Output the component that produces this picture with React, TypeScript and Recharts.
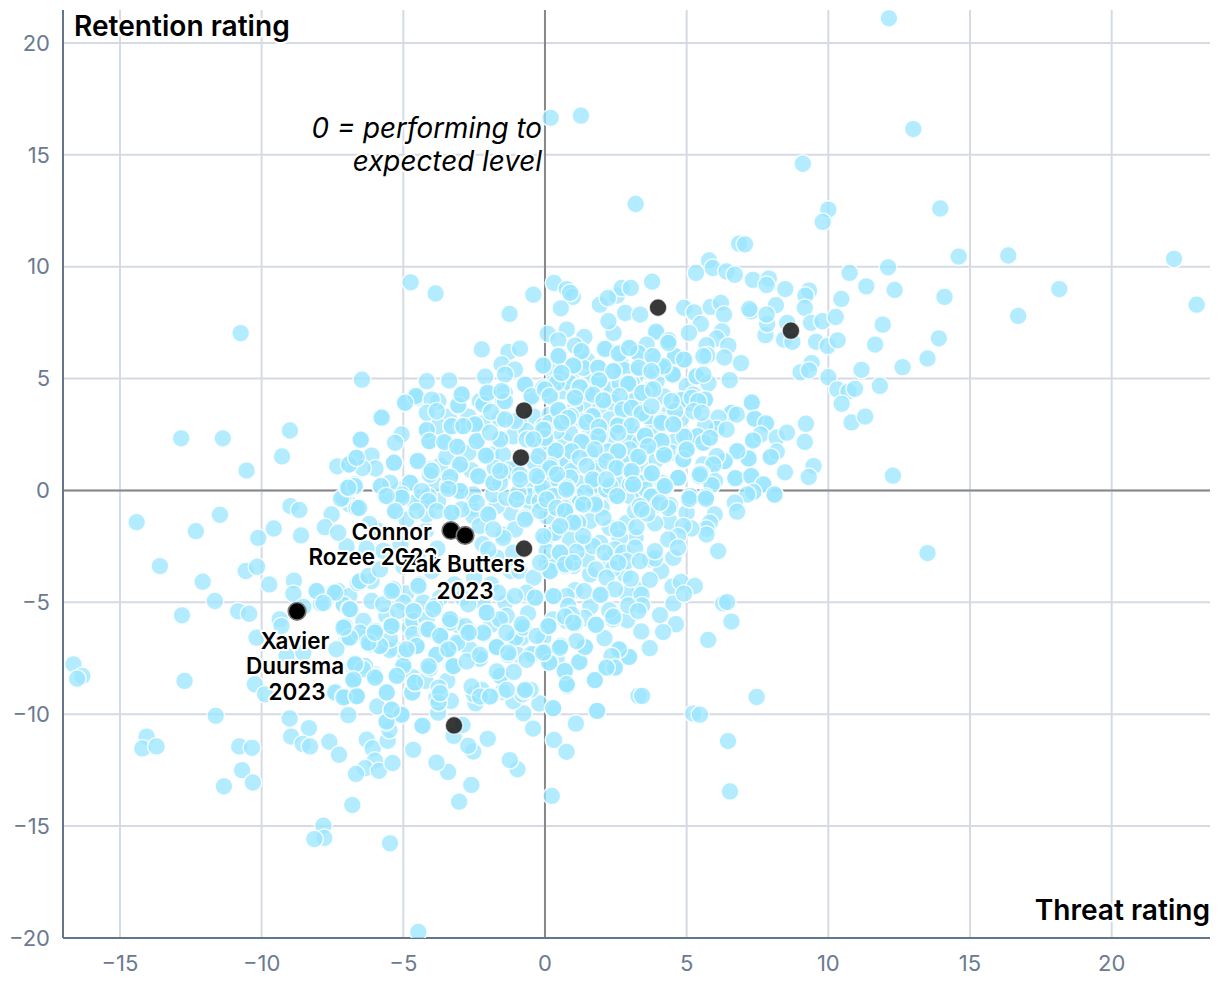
import React from "react";
import { ScatterChart, Scatter, XAxis, YAxis, CartesianGrid, ReferenceLine, Customized } from "recharts";

type P = [number, number];
const farOutliers: P[] = [[12.14,21.1],[0.2,16.65],[1.27,16.75],[13,16.15],[3.2,12.8],[9.1,14.6],[10,12.55],[9.8,12],[13.95,12.6],[14.6,10.45],[16.35,10.5],[22.2,10.35],[23,8.3],[18.15,9],[16.7,7.8],[14.1,8.65],[13.9,6.8],[13.5,5.9],[13.5,-2.8],[6.46,-11.2],[6.53,-13.45],[-4.47,-19.73],[-10.74,7.03],[-6.46,4.95]];
const northEast: P[] = [[6.85,11.03],[7.06,11],[5.79,10.28],[5.92,9.94],[5.33,9.72],[6.41,9.79],[6.7,9.64],[7.34,9.41],[7.9,9.47],[7.82,9.18],[8.48,9],[9.32,8.93],[9.19,8.71],[8.15,8.28],[9.17,8.16],[7.27,8],[7.21,8.11],[4.91,8.16],[5.27,7.96],[5.85,8.2],[6.21,8.38],[6.32,7.86],[5.5,7.44],[5.08,7.04],[6.25,7.11],[6.06,6.79],[5.7,6.49],[6.47,6.47],[5.73,6.03],[5.59,6],[6.33,5.94],[6.92,5.69],[4.37,6.7],[4.91,5.85],[4.59,6],[4.51,5.21],[4.2,5.48],[5.35,5.1],[5.77,4.79],[6.52,4.93],[5.59,5.18],[7.78,6.94],[7.84,7.44],[7.82,7.86],[8.55,7.49],[8.44,6.74],[8.73,6.64],[9.39,7.49],[9.79,7.56],[10.26,7.75],[9.57,6.64],[9.98,6.46],[10.33,6.71],[10.46,8.56],[10.75,9.72],[12.11,9.97],[11.34,9.12],[12.34,8.96],[11.92,7.41],[11.65,6.52],[11.17,5.39],[12.62,5.51],[11.82,4.67],[12.28,0.66],[9.41,5.69],[9.02,5.28],[9.32,5.37],[10,5.06],[10.32,4.51],[10.71,4.42],[10.94,4.54],[10.47,3.87],[10.82,3.04],[11.3,3.3]];
const eastMiddle: P[] = [[7.3,3.93],[7.4,3.2],[7.8,3],[7.61,2.5],[7.34,2.23],[8.18,2.37],[8.54,2.58],[9.21,2.98],[9.17,2.17],[8.18,1.73],[7.97,1.49],[7.19,1.43],[6.79,1.76],[6.34,1.31],[8.47,0.81],[9.48,1.09],[9.31,0.6],[6.72,0.55],[7.28,0.64],[7.71,0.27],[8.1,-0.18],[7.35,-0.07],[7.14,-0.18],[6.59,3.47],[6.77,3.39],[6.12,3.25],[6.06,2.75],[6.41,2.72],[5.65,2.87],[5.38,2.43],[5.59,2.13],[5.82,2.35],[4.91,2.4],[5,1.79],[4.2,1.65],[6.06,1.53],[5.94,1.16],[4.88,1.39],[4.71,0.57],[5.53,0.76],[5.45,0.64],[6,0.42],[5.88,0.24],[5.12,-0.25],[5.68,-0.28],[4.24,0.12],[4.12,0.34],[4.82,4.03],[5.18,4.14],[5.65,4.06],[5.41,3.99],[4.59,3.54],[4.47,3.99],[4.18,3.02],[4.53,2.95],[5.24,3.54],[5.53,3.47]];
const coreUpperRight: P[] = [[1.29,6.22],[2.11,6.32],[2.61,6.11],[3.29,6.14],[3.8,6],[2.97,6.37],[4.35,6.59],[0.47,6],[1,5.58],[-0.06,5.58],[0.58,5.25],[1.88,5.48],[2.41,5.33],[3.31,5.48],[3.76,5.33],[1.91,4.92],[1.23,4.61],[2.94,4.76],[3.43,4.36],[3.82,4.51],[0,4.51],[0.17,4.21],[1.06,4.14],[1.7,4.28],[2.06,4.02],[2.64,4.21],[0.47,3.59],[0.82,3.24],[0.58,3.02],[1.68,3.32],[2.74,3.61],[3.06,3.69],[3.41,3.44],[3.76,3.76],[1.47,3.05],[1.91,2.84],[2.58,2.9],[3.06,2.9],[0,2.72],[3.53,2.45],[1.88,2.42],[1.29,2.16],[2.58,2.57],[4.11,3.02],[4.53,2.95],[4.11,2.2],[3.64,1.98],[2.58,1.75],[1.76,1.83],[0.94,1.75],[0.38,1.78],[1.23,1.46],[0,2.35],[3.29,1.5],[4.21,1.58],[2.17,1.31],[2.53,1.01],[0.2,1.11],[1.47,1.09],[3.06,0.86],[3.77,0.76],[1.68,0.49],[2.17,0.49],[4.7,0.56],[0.35,0.56],[0.76,0.01],[3.11,0.27],[2.55,-0.25],[3.76,-0.28],[4.23,0.19],[0.06,-0.37],[1.23,-0.55],[1.76,-0.55],[0.7,-0.78],[4.41,-0.66],[4,-0.63],[3.35,-0.7]];
const coreUpperRightBack: P[] = [[0.29,4.8],[0.64,4.43],[0.88,4.8],[1.47,4.36],[2.35,4.51],[2.64,4.8],[1.59,4.95],[1.35,5.48],[2.76,5.4],[3.06,4.8],[3.94,4.88],[4.53,5.18],[4.17,5.55],[3.7,4.51],[3.23,3.99],[2.41,3.91],[1.35,3.91],[1.06,3.69],[0.17,3.39],[1.35,3.09],[2.29,3.17],[2.88,3.02],[3.82,2.95],[3.64,3.32],[0.88,2.57],[0.41,2.65],[1.53,2.42],[2.23,2.28],[2.99,2.28],[3.35,2.13],[3.88,2.42],[2.99,1.83],[2.23,1.75],[1.58,1.68],[0.53,1.31],[0.94,0.86],[1.82,0.86],[2.76,1.23],[3.47,1.16],[3.94,1.38],[4.47,1.68],[2.76,0.49],[3.35,0.34],[1.17,0.34],[0,0.79],[0.53,0.19],[2.23,-0.18],[2.99,-0.25],[1.11,-0.25],[3.47,-0.18],[5,4.66],[4.76,4.06],[5.11,3.91],[5.23,4.28],[5.64,4.06],[5.35,5.1],[5,2.42],[5.41,2.42],[5.58,2.13],[5.82,2.35],[6.06,2.8],[4.88,1.38],[4.94,1.75],[5.94,1.08],[6.35,1.31],[6.76,1.75],[7.17,1.41],[7.94,1.5],[7.35,2.28],[7.82,2.95],[7.41,3.21],[7.29,3.91],[6.59,3.44],[5.59,1.16],[5.47,0.79],[5.88,0.27],[6.7,0.56],[7.29,0.64],[7.7,0.27],[7.35,-0.1],[8.11,-0.22],[5.11,-0.4],[5.7,-0.37]];
const coreGapUpper: P[] = [[-1,1],[-1.9,1.6],[-2.6,0.9],[-3.7,1.1],[-3.9,0.3],[-2.6,-0.8],[-1.2,-1],[-0.4,0.2],[-0.5,-0.6],[-1.7,-0.7],[0.8,1.2],[1.6,0.2],[2.6,0.1],[3.6,0.6],[3.9,1.9],[4.6,2.2],[2.9,1.4],[1.9,1.3],[0.2,1.9],[0.7,2.2],[-0.4,3.3],[-0.9,3],[-2.7,3.3],[-1.6,3.2],[-2.2,3],[-3.4,3.3],[1.9,3.7],[3.2,2.5],[2.2,2.7],[4.4,3.5],[4.2,4.2],[4.8,3.2],[3.2,5.1],[2,4.6],[1,5],[0.3,5.3],[2.7,5.6],[1.5,5.8]];
const coreGapLower: P[] = [[0.88,-3.08],[1.59,-3.75],[2.29,-3.08],[2.82,-3.75],[3.71,-3.08],[1.94,-4.64],[1.06,-4.46],[3.35,-4.46],[5,-1],[4.4,-1.4],[3.2,-2.1],[4.1,-3.6],[2.4,-3.5],[4.5,-4.3],[3.7,-4],[2.9,-4.6],[1.6,-5.2],[1.4,-5.7],[2.1,-6.6],[3.4,-6.3],[2.9,-5.8]];
const behindLabels: P[] = [[-4,-3.6],[-3.2,-4.2],[-2.5,-3.9],[-1.9,-4.2],[-1.2,-3.6],[-3.7,-4.8],[-2.9,-4.8],[-2.2,-5],[-1.4,-5],[-0.6,-5.5],[-4.9,-4.6],[-5.6,-5.6],[-4.3,-5],[-3.1,-6],[-1.9,-6],[-5,-3.4],[-4.5,-2.9],[-5.7,-2.7],[-5.1,-2.4],[-4.2,-1.8],[-3.8,-2.6],[-2.2,-2.4],[-1.7,-3],[-0.9,-3.6],[-0.4,-3.9],[-5.9,-1.8],[-6.3,-2.6],[-6.8,-3],[-7,-2.5],[-6.2,-1.5]];
const upperCentre: P[] = [[-4.74,9.3],[-3.86,8.8],[-0.41,8.75],[-1.25,7.89],[0.32,9.27],[0.77,9],[0.98,8.65],[0.89,8.83],[0.56,8.14],[0.1,7],[0.77,7.19],[0.47,6.71],[1.39,6.86],[-2.23,6.3],[-1.29,6.19],[-0.88,6.34],[-1.53,5.63],[-1.06,5.4],[-1.41,5.18],[-0.09,5.6],[0.51,6.03],[1,5.6],[0.59,5.23],[1.27,6.22],[1.06,6.47],[1.89,5.52],[2.16,6.34],[2.62,6.15],[2.42,7.04],[2.24,7.56],[1.94,8.3],[2.54,8.71],[2.71,9.05],[3.03,9.05],[2.22,8.6],[2.83,7.93],[3.36,7.86],[3.78,9.33],[3.94,7.04],[3.92,7.1],[4.37,6.7],[3,6.37],[3.3,6.15],[3.32,5.51],[3.71,5.4],[3.83,6],[3.59,6.52],[4.51,5.18],[4.59,6],[4.91,5.85],[4.18,5.55],[2.42,5.33],[1.91,4.96],[1.53,4.36],[1.24,4.66],[2.94,4.81],[3.47,4.39],[2.06,4.06],[2.74,3.62],[3.12,4],[3.42,3.47],[4.12,3.1],[2.59,2.95],[1.89,2.87],[1.69,3.32],[1.06,4.21],[0.59,3.1],[0.47,3.62],[0.18,4.29],[-0.06,4.59],[-0.7,4.73],[-0.47,4.21],[0.42,4.81],[0.91,3.32],[1.3,2.2],[0.94,1.76],[0.39,1.76],[1.94,2.43],[2.59,1.76],[3.53,2.43],[4.12,2.2],[3.33,1.5],[4.18,1.61],[5,1.83],[2.47,1.01],[3,0.87],[3.77,0.79],[4.71,0.57],[5.47,0.72],[1.71,0.49],[0.89,0.57],[2.3,0.2],[3.12,0.27],[4.18,0.2]];
const upperLeft: P[] = [[-4.17,4.88],[-3.38,4.91],[-2.11,5.08],[-4.55,4.21],[-4.94,3.92],[-3.76,3.99],[-4,4.06],[-4.17,3.47],[-3.82,3.54],[-3.06,3.81],[-2.94,4.29],[-5.76,3.25],[-2.17,3.84],[-2.03,4.36],[-1.41,3.99],[-1.9,3.51],[-1.53,4.44],[-4.17,2.7],[-5.06,2.5],[-5.29,2.13],[-4.08,2.2],[-3.55,2.16],[-3.09,1.95],[-3.29,2.87],[-2.47,2.95],[-2.88,2.87],[-1.06,3.1],[-1.41,3.17],[-2.41,2.2],[-1.58,2.28],[-1.94,2.58],[-2.08,1.56],[-3,1.16],[-4.49,1.31],[-5.33,1.24],[-4,0.87],[-3.41,0.2],[-3.35,0.61],[-2.35,0.64],[-1.82,0.34],[-4.76,0.34],[-5.06,-0.18],[-4.11,-0.25],[-3,-0.03],[-5.47,0.34],[-0.94,-0.1],[-1.58,0.87],[-0.08,0.12],[-0.64,2.28],[-0.06,2.72],[-0.41,2.28],[-0.23,1.53],[0.18,1],[0.42,0.72],[0.77,0.12],[1.42,-0.1],[0.3,-0.25],[-0.88,0.49],[-0.29,0.64]];
const coreUpperLeft: P[] = [[-5.8,3.27],[-6.51,2.27],[-4.92,3.91],[-4.51,4.13],[-4.59,4.24],[-2.92,4.28],[-3.09,3.79],[-2.18,3.84],[-2.3,3.99],[-2,4.36],[-1.42,4.36],[-1.48,3.99],[-0.73,4.73],[-0.48,4.14],[-0.06,4.51],[-4.18,2.68],[-4.1,2.2],[-3.56,2.13],[-3.77,2.87],[-3.3,2.87],[-2.95,2.87],[-2.48,2.94],[-2.42,2.2],[-3.12,1.98],[-1.59,2.3],[-2.1,1.53],[-3,1.16],[-2.36,0.61],[-1.83,0.34],[-1.48,1.6],[-1.12,2.42],[-0.36,2.35],[-0.65,2.65],[-0.06,2.87],[0.17,3.02],[-0.18,1.83],[-0.36,1.23],[0.05,2.13],[-1.24,0.94],[-1.42,0.79],[-0.89,0.71],[-0.18,0.56],[-3.48,1.5],[-2.71,1.68],[-1.77,1],[-4.48,1.35],[-4.04,0.94],[-4.06,0.71],[-3.33,0.56],[-3.42,0.19],[-2.98,0],[-2.53,-0.18],[-1.83,-0.18],[-1,-0.43],[-1.36,-0.33],[-0.54,-0.25],[-0.12,-0.03],[0.11,-0.55],[-0.71,-1.22],[-2.01,-1.07],[-1.48,-1.97],[-1.06,-1.74],[-2.53,-1.15],[-2.3,-1.59],[-3.3,-0.97],[-4.18,-1.07],[-5.3,-0.97],[-4.89,-1.3],[-2.95,-0.85],[-4.75,0.34],[-5.12,0.04],[-5.06,-0.25],[-4.36,-0.33],[-4.09,-0.43],[-3.77,-0.48],[-5.8,0.19],[-5.65,-0.25],[-6.59,-0.81],[-6.89,-0.63],[-7.12,-0.33],[-6.95,0.19],[-6.71,0.27],[-6.65,1.46],[-6.95,1.16],[-6.12,1.56],[-5.98,0.98],[-6.44,1],[-5.32,1.23],[-1.59,0.34],[-0.18,-0.48],[-4.59,-0.55]];
const westFringe: P[] = [[-12.84,2.33],[-11.37,2.33],[-9,2.68],[-9.28,1.52],[-10.53,0.89],[-7.33,1.08],[-6.91,1.16],[-6.65,1.46],[-6.5,2.27],[-14.41,-1.42],[-11.47,-1.09],[-12.32,-1.82],[-8.98,-0.7],[-8.67,-0.87],[-9.57,-1.7],[-10.12,-2.12],[-8.61,-2.01],[-7.53,-1.07],[-7.77,-1.64],[-7.2,-0.37],[-6.98,0.12],[-6.71,0.19],[-6.65,-0.78],[-7.3,-1.89],[-13.59,-3.38],[-10.56,-3.6],[-10.16,-3.41],[-12.08,-4.08],[-9.73,-4.2],[-8.86,-4.03],[-8.88,-4.62],[-8.06,-4.47],[-7.44,-4.54],[-6.91,-4.72],[-11.65,-4.94],[-10.83,-5.4],[-10.44,-5.51],[-7.91,-5.06],[-7.1,-5.12],[-6.91,-5.31],[-8.53,-5.2],[-12.81,-5.58],[-9.36,-5.76],[-9.3,-6.06],[-7.12,-6.13],[-6.94,-6.58],[-10.18,-6.58],[-7.36,-7.1],[-6.71,-7.77],[-6.77,-8.51],[-6.53,-6.36],[-6.6,-4.13],[-16.64,-7.77],[-16.33,-8.29],[-16.51,-8.41],[-12.72,-8.51],[-10.24,-8.66],[-9.88,-9.11],[-7.36,-9.04],[-7.12,-9.18],[-9.12,-7.4],[-8.53,-7.25]];
const southWest: P[] = [[-11.62,-10.07],[-14.06,-11],[-14.21,-11.53],[-13.71,-11.44],[-10.79,-11.44],[-10.34,-11.5],[-10.69,-12.5],[-11.33,-13.22],[-10.31,-13.05],[-9.01,-10.19],[-8.33,-10.62],[-8.96,-11],[-8.55,-11.33],[-8.29,-11.44],[-7.61,-11.23],[-7.27,-11.81],[-6.29,-11.14],[-6.08,-11.53],[-5.55,-11.19],[-5.49,-10.71],[-5.59,-10.29],[-6,-12.08],[-6.35,-12.41],[-6.67,-12.67],[-5.86,-12.53],[-5.38,-12.18],[-4.65,-11.59],[-6.8,-14.06],[-7.82,-14.98],[-7.79,-15.53],[-8.14,-15.58],[-5.47,-15.77],[-6.94,-10.04],[-5.92,-9.65],[-5.41,-9.8],[-5.06,-9.99],[-4.35,-10.52],[-5.61,-9.03],[-4.67,-9.03],[-4.59,-8.58],[-5.24,-8.25],[-5.98,-8.31],[-6.76,-8.51],[-6.65,-9.15],[-7.09,-9.25],[-7.41,-9.03],[-6.35,-7.84],[-6.71,-7.76],[-5,-7.76]];
const southCentre: P[] = [[-3.03,-13.91],[-2.6,-13.16],[0.24,-13.65],[-3.42,-12.58],[-3.83,-12.16],[-0.97,-12.46],[-1.24,-12.05],[-2.53,-11.67],[-2.71,-11.41],[-2.02,-11.1],[-3.22,-10.97],[-2.91,-10.48],[-4.32,-10.52],[-0.42,-10.64],[0.32,-11.15],[0.76,-11.68],[1.09,-10.42],[1.84,-9.85],[0.29,-9.73],[-0.2,-9.52],[-0.76,-9.96],[-1.12,-9.41],[-0.79,-9.11],[-0.51,-8.91],[-0.73,-8.96],[-1.5,-9],[-1.89,-9.18],[-2.45,-9.51],[-2.51,-9.11],[-2.24,-8.91],[-3.32,-9.41],[-3.77,-9.48],[-3.77,-9.93],[-3.83,-9.26],[-4.69,-9.03],[-4.59,-8.59],[-4.22,-8.51],[-3.45,-8.51],[-3.75,-8.81],[-3.24,-7.87],[-4.06,-7.95],[-6.77,-8.51],[-7.06,-9.21],[-6.65,-9.18],[-5.06,-10.03],[-5.59,-10.34],[-1.57,-8.29],[-1.1,-8.11],[0.78,-8.74],[1.76,-8.47],[0.7,-8.07],[1.21,-7.66],[0.17,-7.69],[2.17,-7.89],[2.44,-7.92],[2.62,-7.13],[2.95,-7.44],[3.3,-9.18],[1.41,-6.98],[0.53,-6.92],[-0.04,-7.2],[-0.48,-7.32],[-1.3,-7.35],[-2.3,-7.52],[-2.65,-7.1],[-1.71,-6.98],[-3.45,-7.13],[-3.83,-7.35],[-4.53,-6.98],[-4.95,-7.25],[-5.48,-7.13],[-5.83,-6.95],[-6.18,-6.88],[-6.71,-7.72],[-6.42,-7.99],[-5,-7.85],[-7.06,-6.06],[-6.89,-6.58],[-2.67,-6.36],[-2.18,-6.36],[-3.68,-6.47],[-4.65,-6.43],[-5.44,-6.06],[-6,-6.28],[-1.04,-6.58],[-0.79,-6.09],[0.15,-6.09],[1.05,-5.98],[1.8,-5.98],[2.4,-5.76],[-0.06,-6.58],[-3.1,-6.8],[-4.18,-6.21],[-3.36,-5.91],[-1.59,-5.76],[0.76,-5.83],[-1.36,-6.36]];
const southMiddleBack: P[] = [[-6.53,-4.12],[-6.12,-4.05],[-5.35,-4.42],[-7.3,-4.49],[-7.12,-5.09],[-6.92,-5.31],[-6.12,-4.94],[-5.71,-5.09],[-5,-5.01],[-5.18,-5.39],[-4.62,-5.39],[-4.44,-4.2],[-3.88,-5.16],[-3.35,-5.76],[-2.71,-5.09],[-2.06,-5.46],[-1.35,-5.61],[-0.82,-6.01],[-1.65,-4.57],[-0.32,-4.79],[-0.65,-4.57],[-1.06,-4.72],[0.18,-5.98],[-7.12,-6.21],[-7,-6.65],[-6.36,-6.35],[-5.94,-6.28],[-5.44,-6.06],[-6.18,-6.87],[-5.82,-6.98],[-5.35,-7.02],[-4.53,-6.95],[-4.77,-6.13],[-4.12,-6.28],[-3.65,-6.43],[-2.65,-6.28],[-2.82,-6.06],[-3.47,-7.1],[-3.83,-7.32],[-3.06,-6.87],[-2.18,-6.43],[-1.71,-7.02],[-2.3,-7.47],[-1,-7.32],[-1.12,-6.58],[-0.82,-6.58],[-0.39,-7.32],[-0.06,-7.25],[-5,-8.07],[-3.3,-7.84],[-4.12,-7.92],[-6,-8.21],[-6.77,-7.84],[-1.59,-8.29],[-4.65,-8.36],[0.41,-7.54],[-4.65,-5.83],[-4.18,-5.76],[-6.41,-5.83]];
const southEast: P[] = [[5.09,-0.37],[5.68,-0.37],[6.7,-0.55],[6.78,-0.95],[5.99,-1.07],[5.82,-1.44],[5.7,-1.71],[5.7,-1.97],[5.17,-1.7],[6.11,-2.71],[4.88,-1.59],[4.7,-2.04],[4.35,-2.19],[3.88,-3.04],[4.53,-3.01],[3.88,-2.71],[4.7,-2.56],[3.23,-1.64],[3.88,-1.47],[3.61,-1.04],[4.35,-0.78],[4.06,-0.55],[3.41,-0.85],[2.58,-1.74],[2.06,-1.22],[1.76,-0.63],[1.35,-0.63],[0.76,0.04],[0.7,-0.92],[0.35,-1.89],[1.35,-2.04],[2.11,-2.78],[3.18,-2.56],[2.88,-3.16],[3.35,-3.16],[2.58,-3.23],[1.8,-3.53],[1.11,-2.75],[0.53,-2.75],[0.17,-3.6],[0.7,-3.38],[2.17,-3.9],[2.47,-4.42],[3.03,-3.94],[1.38,-4.5],[1.96,-4.67],[0.33,-4.75],[0.76,-4.72],[3.41,-4.66],[3.43,-5.14],[2.94,-5.14],[3.29,-5.39],[2.27,-5.36],[2.41,-5.64],[0.82,-5.16],[0.94,-5.54],[1.06,-5.94],[0.29,-5.76],[0.15,-6.06],[1.8,-6.01],[4.53,-5.05],[4.8,-4.09],[5.29,-4.27],[4.91,-4.61],[6.29,-5.05],[6.43,-4.99],[6.58,-5.86],[4.06,-5.57],[4.62,-5.98],[4.17,-6.33],[5.76,-6.68],[3.7,-7.05],[2.97,-7.44],[2.61,-7.1],[2.35,-7.4],[2.47,-7.92],[2.17,-7.92],[1.21,-7.67],[1.41,-7],[1.11,-6.73],[0.55,-6.95],[0,-7.22],[0.15,-7.69],[1.76,-8.48],[0.78,-8.74],[0.7,-8.07],[3.43,-9.18],[7.47,-9.23],[5.23,-9.97],[5.47,-10.02],[1.84,-9.85],[0.29,-9.73]];
const coreLowerRight: P[] = [[0.06,-0.4],[0.35,0.12],[1.23,-0.55],[0.94,-1.37],[1.7,0.19],[2.17,0.04],[2.55,-0.25],[3,0.27],[3.58,0.04],[0.41,-0.78],[2,-0.78],[1.59,-1.37],[2.29,-1.67],[1.17,-1.44],[0.53,-1.52],[0.06,-1.15],[0,-2.2],[1.35,-2.34],[1.94,-2.34],[2.64,-2.12],[2.88,-1.45],[3.18,-0.92],[3.76,-0.25],[0.06,-3.23],[0.41,-3.23],[1,-3.38],[1.47,-3.08],[1.7,-2.49],[2.47,-2.63],[2.76,-2.78],[0.06,-2.71],[0.88,-2.19],[0.23,-1.97]];
const coreLowerLeft: P[] = [[-6.56,-0.78],[-6.94,0.12],[-5.79,0.19],[-5.06,-0.33],[-5.59,-0.25],[-5.29,-0.92],[-4.35,-0.03],[-4.11,-0.48],[-3.41,0.07],[-4.53,-0.92],[-3.82,-0.92],[-3.29,-1],[-2.41,-0.55],[-2,-1.07],[-1.47,-2.12],[-1,-0.4],[-0.7,-1.3],[-0.17,-0.92],[0.06,-0.4],[0.41,-0.78],[0.71,-0.92],[1,-1.44],[0.53,-1.59],[-0.06,-2.04],[0.53,-2.78],[0.18,-3.6],[0.71,-3.3],[-0.17,-3.23],[1,-3.23],[-1.12,-2.78],[-1.82,-1.74],[-2,-2.64],[-6.53,-4.05],[-6.23,-3.82],[-5.82,-3.53],[-5.35,-4.42],[-4.47,-4.27],[-4.64,-5.39],[-3.94,-5.31],[-3.35,-5.76],[-2.06,-5.46],[-2.7,-6.36],[-1.7,-7],[-1.29,-7.25],[-0.76,-6.13],[-0.82,-5.98],[-0.35,-4.79],[-0.29,-6.5],[0.3,-4.72],[0.71,-5.63],[1,-5.91],[0.12,-6.06],[-0.06,-7.25],[0.53,-7.03],[0.77,-8.66],[-5.41,-4.5],[-7.11,-6.13],[-6.88,-5.31],[-7.41,-4.57],[-8.06,-4.5],[-7.82,-5.03],[-5.47,-6.65],[-5.82,-6.95],[-6.23,-6.8],[-6.7,-7.77],[-6,-8.37],[-5.23,-8.29],[-4.53,-6.95],[-4.88,-7.1],[-5.41,-6.06],[-6,-6.36],[-4.11,-6.21],[-3.7,-6.5],[-3.41,-7.1],[-4.11,-7.85],[-3.23,-7.85],[-4.59,-8.59],[-3.76,-9.48],[-5.58,-9.03],[-6.76,-8.46],[-7.11,-9.25],[-6.64,-9.2],[-5.41,-9.8],[-2.76,-7.64],[-2.29,-7.35],[-1.35,-8.91],[-1.7,-8.09],[-0.64,-7.57],[-0.7,-8.91],[-2.59,-8.76],[-2.29,-9.21],[-3.7,-9.06],[-1.94,-9.21]];
const unlabelledDark: P[] = [[-0.74,3.57],[-0.85,1.47],[-0.74,-2.6],[3.99,8.17],[8.68,7.14],[-3.21,-10.5]];

const playerNames = ["Connor Rozee", "Zak Butters", "Xavier Duursma"];
const playerThreat = [-3.32, -2.82, -8.75];
const playerRetention = [-1.79, -2.01, -5.4];

const xTicks = [-15, -10, -5, 0, 5, 10, 15, 20];
const yTicks = [-20, -15, -10, -5, 0, 5, 10, 15, 20];

const toRows = (pts: P[]) => pts.map(([x, y]) => ({ x, y }));
const crowd = toRows([...coreGapUpper, ...coreGapLower, ...behindLabels, ...coreUpperRightBack, ...coreLowerRight, ...coreUpperLeft, ...southMiddleBack, ...farOutliers, ...northEast, ...eastMiddle, ...upperCentre, ...coreUpperRight, ...upperLeft, ...westFringe, ...southWest, ...southCentre, ...southEast, ...coreLowerLeft]);
const dark = toRows(unlabelledDark);
const players = playerNames.map((name, i) => ({ name, x: playerThreat[i], y: playerRetention[i] }));

const FONT = "Inter, sans-serif";
const minus = (v: number) => String(v).replace("-", "\u2212");

const labelStyle: any = { fontFamily: FONT, fontSize: 22.5, fontWeight: 600, fill: "#000", stroke: "#fff", strokeWidth: 4, paintOrder: "stroke", strokeLinejoin: "round" };

const labelLines: Record<string, { t: string; dx: number; dy: number; a: string }[]> = {
  "Connor Rozee": [{ t: "Connor", dx: -19, dy: 9, a: "end" }, { t: "Rozee 2023", dx: -13, dy: 34, a: "end" }],
  "Zak Butters": [{ t: "Zak Butters", dx: -2, dy: 37, a: "middle" }, { t: "2023", dx: 0, dy: 64, a: "middle" }],
  "Xavier Duursma": [{ t: "Xavier", dx: -2, dy: 38, a: "middle" }, { t: "Duursma", dx: -2, dy: 63, a: "middle" }, { t: "2023", dx: 0, dy: 89, a: "middle" }],
};

const CrowdDot = (p: any) => <circle cx={p.cx} cy={p.cy} r={8.9} fill="#99e5ff" fillOpacity={0.75} stroke="#fff" strokeOpacity={0.85} strokeWidth={1.5} />;
const DarkDot = (p: any) => <circle cx={p.cx} cy={p.cy} r={8.8} fill="#1c1c1c" fillOpacity={0.88} stroke="#fff" strokeOpacity={0.7} strokeWidth={1.4} />;
const PlayerDot = (p: any) => <circle cx={p.cx} cy={p.cy} r={8.8} fill="#000" stroke="#777" strokeWidth={1.6} />;
const PlayerLabel = (p: any) => (
  <g>
    {(labelLines[p.payload?.name ?? p.name] || []).map((l) => (
      <text key={l.t} x={p.cx + l.dx} y={p.cy + l.dy} textAnchor={l.a as any} style={labelStyle}>{l.t}</text>
    ))}
  </g>
);

const titleStyle: any = { fontFamily: FONT, fontSize: 28.1, fontWeight: 600, fill: "#000", stroke: "#fff", strokeWidth: 4, paintOrder: "stroke", strokeLinejoin: "round" };
const noteStyle: any = { fontFamily: FONT, fontSize: 27.8, fontStyle: "italic", fontWeight: 400, fill: "#000", stroke: "#fff", strokeWidth: 4, paintOrder: "stroke", strokeLinejoin: "round" };

const Annotations = () => (
  <g>
    <text x={66} y={28} style={titleStyle}>Retention rating</text>
    <text x={1202} y={912} textAnchor="end" style={titleStyle}>Threat rating</text>
    <text x={534} y={130} textAnchor="end" style={noteStyle}>0 = performing to</text>
    <text x={534} y={163} textAnchor="end" style={noteStyle}>expected level</text>
  </g>
);

const tick = { fontFamily: FONT, fontSize: 22, fill: "#6b7a90" };

export default function App() {
  return (
    <ScatterChart width={1204} height={985} margin={{ top: 2, right: 2, bottom: 0, left: 0 }}>
      <CartesianGrid stroke="#d5dae4" strokeWidth={2} horizontalValues={yTicks} verticalValues={xTicks} />
      <XAxis type="number" dataKey="x" domain={[-17.01, 23.47]} ticks={xTicks} tickFormatter={minus} interval={0} height={55} tick={tick} tickLine={false} axisLine={{ stroke: "#64748b", strokeWidth: 2 }} tickMargin={11} allowDataOverflow />
      <YAxis type="number" dataKey="y" domain={[-20, 21.47]} ticks={yTicks} tickFormatter={minus} interval={0} width={55} tick={tick} tickLine={false} axisLine={{ stroke: "#64748b", strokeWidth: 2 }} tickMargin={7} allowDataOverflow />
      <ReferenceLine x={0} stroke="#888" strokeWidth={2} />
      <ReferenceLine y={0} stroke="#888" strokeWidth={2} />
      <Scatter data={crowd} isAnimationActive={false} shape={CrowdDot} />
      <Scatter data={dark} isAnimationActive={false} shape={DarkDot} />
      <Scatter data={players} isAnimationActive={false} shape={PlayerDot} />
      <Scatter data={players} isAnimationActive={false} shape={PlayerLabel} />
      <Customized component={Annotations} />
    </ScatterChart>
  );
}
